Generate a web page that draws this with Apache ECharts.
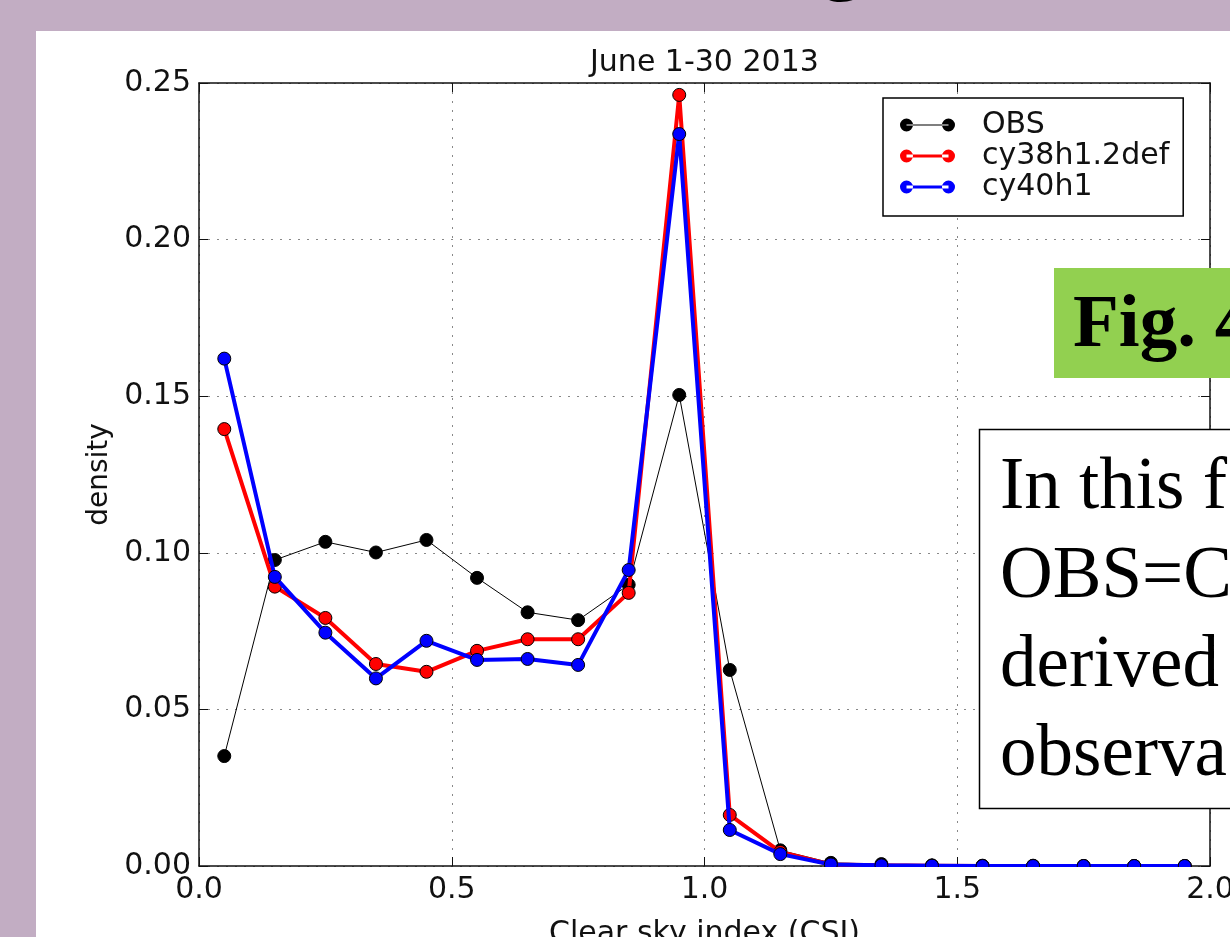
<!DOCTYPE html>
<html>
<head>
<meta charset="utf-8">
<script src="https://cdn.jsdelivr.net/npm/echarts@6/dist/echarts.min.js"></script>
<style>
html,body{margin:0;padding:0;width:1230px;height:937px;overflow:hidden;background:#c2adc3;}
#panel{position:absolute;left:36px;top:31px;width:1194px;height:906px;background:#fff;}
#chart{position:absolute;left:0;top:0;width:1230px;height:937px;}
</style>
</head>
<body>
<div id="panel"></div>
<div id="chart"></div>
<script>
const titleText = 'June 1-30 2013';
const xName = 'Clear sky index (CSI)';
const yName = 'density';
const csi = [0.05,0.15,0.25,0.35,0.45,0.55,0.65,0.75,0.85,0.95,1.05,1.15,1.25,1.35,1.45,1.55,1.65,1.75,1.85,1.95];
const obs = [0.0351,0.0977,0.1035,0.1001,0.1041,0.0920,0.0810,0.0785,0.0898,0.1504,0.0626,0.0050,0.0010,0.0006,0.0002,0.0001,0.0001,0,0,0];
const cy38 = [0.1395,0.0892,0.0792,0.0645,0.0620,0.0687,0.0724,0.0724,0.0872,0.2462,0.0163,0.0045,0.0005,0.0002,0.0001,0,0,0,0,0];
const cy40 = [0.1620,0.0923,0.0745,0.0599,0.0719,0.0658,0.0661,0.0642,0.0945,0.2337,0.0115,0.0038,0.0005,0.0002,0.0001,0,0,0,0,0];
const seriesNames = ['OBS','cy38h1.2def','cy40h1'];
const xTicks = ['0.0','0.5','1.0','1.5','2.0'];
const yTicks = ['0.00','0.05','0.10','0.15','0.20','0.25'];
const noteLines = ['In this f','OBS=C','derived','observa'];
const figLabel = 'Fig. 4';

const pair = (xs, ys) => xs.map((x, i) => [x, ys[i]]);
const font = 'DejaVu Sans';
const iconThick = 'path://M0,6.5a6.5,6.5 0 1,0 13,0a6.5,6.5 0 1,0 -13,0Z M42,6.5a6.5,6.5 0 1,0 13,0a6.5,6.5 0 1,0 -13,0Z M6.5,5L48.5,5L48.5,8L6.5,8Z';
const iconThin = 'path://M0,6.5a6.5,6.5 0 1,0 13,0a6.5,6.5 0 1,0 -13,0Z M42,6.5a6.5,6.5 0 1,0 13,0a6.5,6.5 0 1,0 -13,0Z M6.5,6L48.5,6L48.5,7L6.5,7Z';

const chart = echarts.init(document.getElementById('chart'), null, {renderer: 'canvas'});
const frame = {show: true, onZero: false, lineStyle: {color: '#111', width: 1.5}};
const tick = {show: true, inside: true, length: 9, lineStyle: {color: '#111', width: 1}};
const split = {show: true, lineStyle: {color: '#888', width: 1, type: [2, 7]}};

const serifText = (t, x, baseline, size, bold) => ({
  type: 'text', z: 61, silent: true, x: x, y: baseline - Math.round(size * 0.81),
  style: {text: t, font: (bold ? 'bold ' : '') + size + 'px "Liberation Serif"', fill: '#000'}
});

chart.setOption({
  animation: false,
  backgroundColor: 'transparent',
  title: {
    text: titleText, left: 585, top: 43,
    textStyle: {fontFamily: font, fontSize: 30, fontWeight: 'normal', color: '#111'}
  },
  grid: {left: 199, right: 20, top: 83, bottom: 71, outerBoundsMode: 'none', containLabel: false},
  legend: {
    orient: 'vertical', left: 883, top: 98,
    width: 310,
    padding: [12, 14, 14, 17],
    itemGap: 1, itemWidth: 55, itemHeight: 13,
    borderColor: '#000', borderWidth: 1.5, backgroundColor: '#fff',
    textStyle: {fontFamily: font, fontSize: 30, color: '#111', lineHeight: 30, padding: [0, 0, 0, 22]},
    data: [
      {name: seriesNames[0], icon: iconThin, itemStyle: {borderWidth: 0}},
      {name: seriesNames[1], icon: iconThick, itemStyle: {borderWidth: 0}},
      {name: seriesNames[2], icon: iconThick, itemStyle: {borderWidth: 0}}
    ]
  },
  xAxis: [{
    type: 'value', min: 0, max: 2.0, interval: 0.5, position: 'bottom',
    name: xName, nameLocation: 'middle', nameGap: 53,
    nameTextStyle: {fontFamily: font, fontSize: 30, color: '#111'},
    axisLine: frame, axisTick: tick, splitLine: split,
    axisLabel: {fontFamily: font, fontSize: 30, color: '#111', margin: 9,
      formatter: v => xTicks[Math.round(v / 0.5)]}
  }, {
    type: 'value', min: 0, max: 2.0, interval: 0.5, position: 'top',
    axisLine: frame, axisTick: tick, splitLine: {show: false}, axisLabel: {show: false}
  }],
  yAxis: [{
    type: 'value', min: 0, max: 0.25, interval: 0.05, position: 'left',
    name: yName, nameLocation: 'middle', nameGap: 85, nameRotate: 90,
    nameTextStyle: {fontFamily: font, fontSize: 28, color: '#111'},
    axisLine: frame, axisTick: tick, splitLine: split,
    axisLabel: {fontFamily: font, fontSize: 30, color: '#111', margin: 8,
      formatter: v => yTicks[Math.round(v / 0.05)]}
  }, {
    type: 'value', min: 0, max: 0.25, interval: 0.05, position: 'right',
    axisLine: frame, axisTick: tick, splitLine: {show: false}, axisLabel: {show: false}
  }],
  series: [
    {
      name: seriesNames[0], type: 'line', data: pair(csi, obs), z: 3,
      symbol: 'circle', symbolSize: 13,
      lineStyle: {color: '#000', width: 1},
      itemStyle: {color: '#000', borderColor: '#000', borderWidth: 1}
    },
    {
      name: seriesNames[1], type: 'line', data: pair(csi, cy38), z: 4,
      symbol: 'circle', symbolSize: 13,
      lineStyle: {color: '#ff0000', width: 4},
      itemStyle: {color: '#ff0000', borderColor: '#000', borderWidth: 1}
    },
    {
      name: seriesNames[2], type: 'line', data: pair(csi, cy40), z: 5,
      symbol: 'circle', symbolSize: 13,
      lineStyle: {color: '#0000ff', width: 4},
      itemStyle: {color: '#0000ff', borderColor: '#000', borderWidth: 1}
    }
  ],
  graphic: [
    {type: 'rect', z: 50, silent: true,
      shape: {x: 200, y: 867, width: 1009, height: 7}, style: {fill: '#fff'}},
    {type: 'text', z: 60, silent: true, x: 822, y: -76,
      style: {text: 'g', font: 'bold 80px "Liberation Serif"', fill: '#000'}},
    {type: 'rect', z: 60, silent: true,
      shape: {x: 1054, y: 268, width: 200, height: 110}, style: {fill: '#92d050'}},
    serifText(figLabel, 1073, 350, 75, true),
    {type: 'rect', z: 60, silent: true,
      shape: {x: 979.5, y: 429.5, width: 300, height: 379}, style: {fill: '#fff', stroke: '#000', lineWidth: 1.5}},
    serifText(noteLines[0], 1000, 511, 73, false),
    serifText(noteLines[1], 1000, 600, 73, false),
    serifText(noteLines[2], 1000, 689, 73, false),
    serifText(noteLines[3], 1000, 778, 73, false)
  ]
});
</script>
</body>
</html>
